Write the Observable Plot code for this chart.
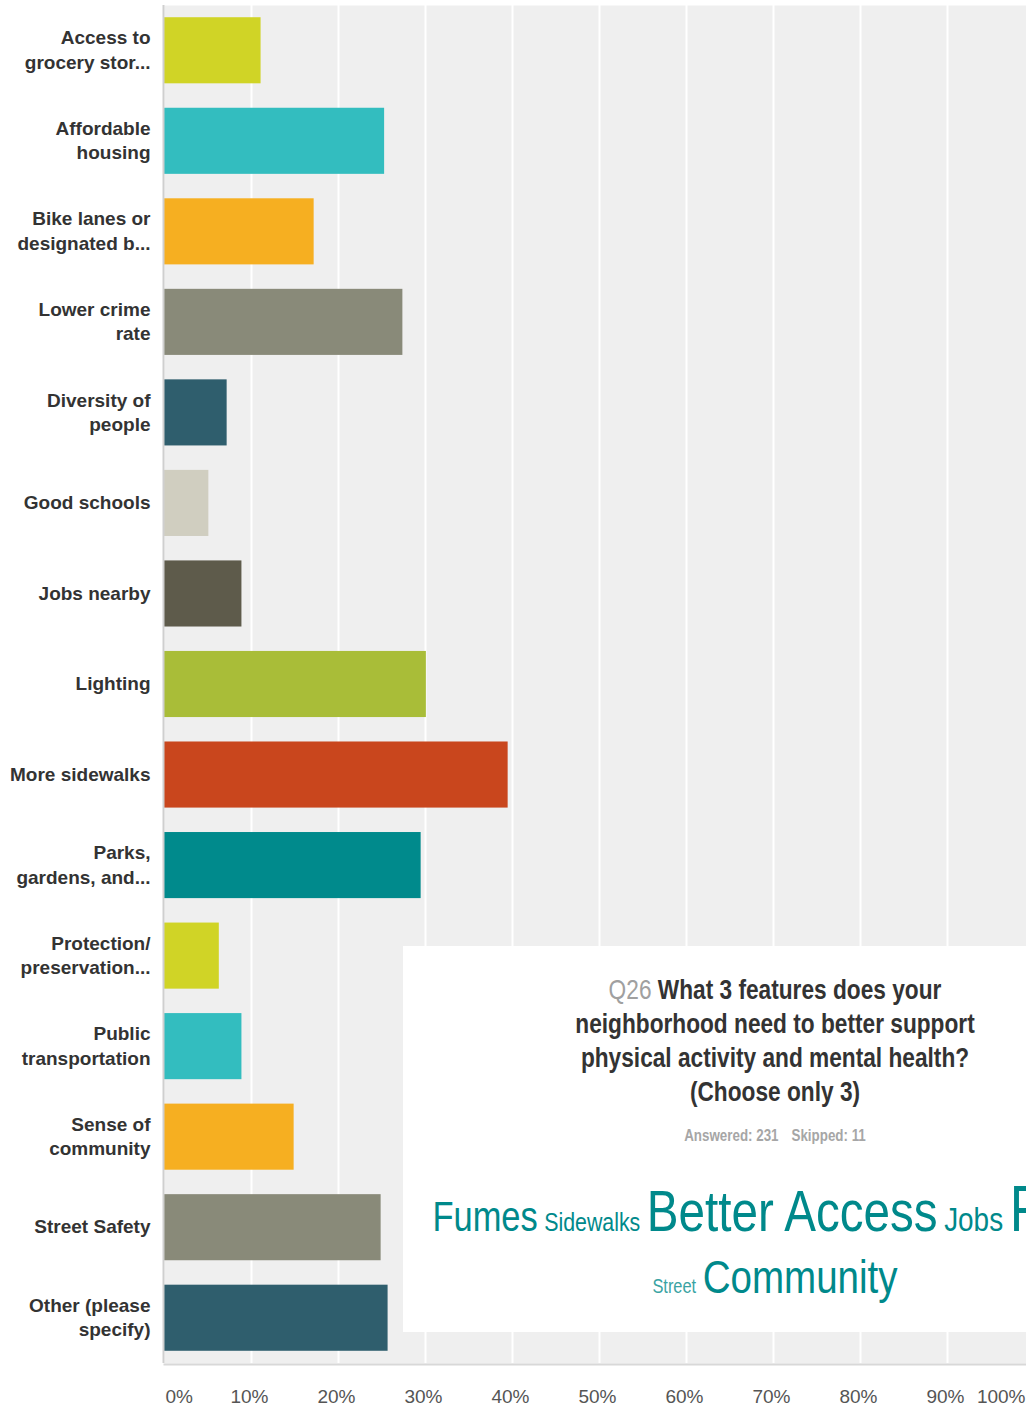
<!DOCTYPE html>
<html>
<head>
<meta charset="utf-8">
<script src="https://cdn.jsdelivr.net/npm/d3@7"></script>
<script src="https://cdn.jsdelivr.net/npm/@observablehq/plot@0.6"></script>
<style>
  html, body { margin: 0; padding: 0; background: #fff; }
  #wrap { position: relative; width: 1026px; height: 1407px; overflow: hidden; }
  #overlay { position: absolute; left: 403px; top: 946px; width: 744px; height: 386px; background: #fff; }
  #title { position: absolute; left: 0; width: 100%; top: 0; padding-top: 27px; text-align: center;
    font-family: "Liberation Sans", Arial, sans-serif; white-space: nowrap;
    font-weight: bold; font-size: 28px; line-height: 34px; color: #333;
    transform: scaleX(0.81); transform-origin: 50% 0; }
  #title .q { color: #a0a0a0; font-weight: normal; }
  #stats { margin-top: 16px; font-size: 16.5px; line-height: 20px; color: #a6a6a6; }
  #stats span { margin: 0 8px; }
  .row { position: absolute; left: 0; width: 100%; display: flex; justify-content: center; align-items: baseline;
    white-space: nowrap; font-family: "Liberation Sans", Arial, sans-serif; line-height: 60px;
    transform: scaleX(0.82); transform-origin: 50% 0; }
  .row span { margin: 0 4px; flex: none; }
</style>
</head>
<body>
<div id="wrap"></div>
<script>
// ---- data ----
const categories = [
  "Access to grocery stores", "Affordable housing", "Bike lanes or designated bike paths",
  "Lower crime rate", "Diversity of people", "Good schools", "Jobs nearby", "Lighting",
  "More sidewalks", "Parks, gardens, and green space", "Protection/preservation of natural areas",
  "Public transportation", "Sense of community", "Street Safety", "Other (please specify)"
];
const tickLabels = [
  "Access to\ngrocery stor...", "Affordable\nhousing", "Bike lanes or\ndesignated b...",
  "Lower crime\nrate", "Diversity of\npeople", "Good schools", "Jobs nearby", "Lighting",
  "More sidewalks", "Parks,\ngardens, and...", "Protection/\npreservation...",
  "Public\ntransportation", "Sense of\ncommunity", "Street Safety", "Other (please\nspecify)"
];
const values = [11.1, 25.3, 17.2, 27.4, 7.2, 5.1, 8.9, 30.1, 39.5, 29.5, 6.3, 8.9, 14.9, 24.9, 25.7];
const barColors = [
  "#d0d426", "#33bdbf", "#f6af21", "#898a79", "#2f5e6d", "#d0cec0", "#5e5b4b", "#a9bd38",
  "#c9461d", "#008a8c", "#d0d426", "#33bdbf", "#f6af21", "#898a79", "#2f5e6d"
];
const xTicks = [0, 10, 20, 30, 40, 50, 60, 70, 80, 90, 100];

const titleQ = "Q26";
const titleLines = ["What 3 features does your", "neighborhood need to better support", "physical activity and mental health?", "(Choose only 3)"];
const statsText = ["Answered: 231", "Skipped: 11"];

const cloudWords = ["Fumes", "Sidewalks", "Better Access", "Jobs", "Free", "Street", "Community"];
const cloudSizes = [42, 26, 58, 34, 64, 20, 47];
const cloudRows  = [0, 0, 0, 0, 0, 1, 1];
const cloudColors = ["#00898b", "#00898b", "#00898b", "#00898b", "#00898b", "#3aa3a3", "#00898b"];

// ---- chart ----
const data = categories.map((c, i) => ({category: c, value: values[i]}));
const fmt = d => d + "%";
const axisXCommon = {tickSize: 0, tickPadding: 26, tickFormat: fmt, fontSize: 19, fill: "#555", label: null};

const chart = Plot.plot({
  width: 1026,
  height: 1407,
  marginLeft: 164,
  marginRight: 0,
  marginTop: 5,
  marginBottom: 44,
  style: {fontFamily: "'Liberation Sans', Arial, sans-serif", background: "#fff"},
  x: {domain: [0, 100], range: [164, 1034]},
  y: {domain: categories, paddingInner: 0.27, paddingOuter: 0.135, round: false},
  color: {domain: categories, range: barColors},
  marks: [
    Plot.frame({fill: "#efefef"}),
    Plot.gridX(xTicks.slice(1), {stroke: "#fff", strokeOpacity: 1, strokeWidth: 2}),
    Plot.barX(data, {x: "value", y: "category", fill: "category"}),
    Plot.ruleX([0], {stroke: "#cfcfcf", strokeWidth: 2, dx: -1}),
    Plot.frame({anchor: "bottom", stroke: "#d8d8d8", strokeWidth: 2, dy: 1}),
    Plot.axisY({tickSize: 0, tickPadding: 14, label: null, dy: -2,
      tickFormat: d => tickLabels[categories.indexOf(d)],
      fontSize: 19, fontWeight: "bold", fill: "#333", lineHeight: 1.28}),
    Plot.axisX(xTicks.slice(0, 1), {...axisXCommon, textAnchor: "start", dx: 1}),
    Plot.axisX(xTicks.slice(1, -1), {...axisXCommon, dx: -2}),
    Plot.axisX(xTicks.slice(-1), {...axisXCommon, textAnchor: "end", dx: -9})
  ]
});

const wrap = document.getElementById("wrap");
wrap.appendChild(chart);

// ---- overlay (title + word cloud) ----
const overlay = document.createElement("div");
overlay.id = "overlay";
const title = document.createElement("div");
title.id = "title";
const q = document.createElement("span");
q.className = "q";
q.textContent = titleQ + " ";
title.appendChild(q);
titleLines.forEach((t, i) => {
  if (i > 0) title.appendChild(document.createElement("br"));
  title.appendChild(document.createTextNode(t));
});
const stats = document.createElement("div");
stats.id = "stats";
statsText.forEach(t => { const s = document.createElement("span"); s.textContent = t; stats.appendChild(s); });
title.appendChild(stats);
overlay.appendChild(title);

const rowTops = [233, 301];
[0, 1].forEach(r => {
  const row = document.createElement("div");
  row.className = "row";
  row.style.top = rowTops[r] + "px";
  cloudWords.forEach((w, i) => {
    if (cloudRows[i] !== r) return;
    const s = document.createElement("span");
    s.textContent = w;
    s.style.fontSize = cloudSizes[i] + "px";
    s.style.color = cloudColors[i];
    row.appendChild(s);
  });
  overlay.appendChild(row);
});
wrap.appendChild(overlay);
</script>
</body>
</html>
